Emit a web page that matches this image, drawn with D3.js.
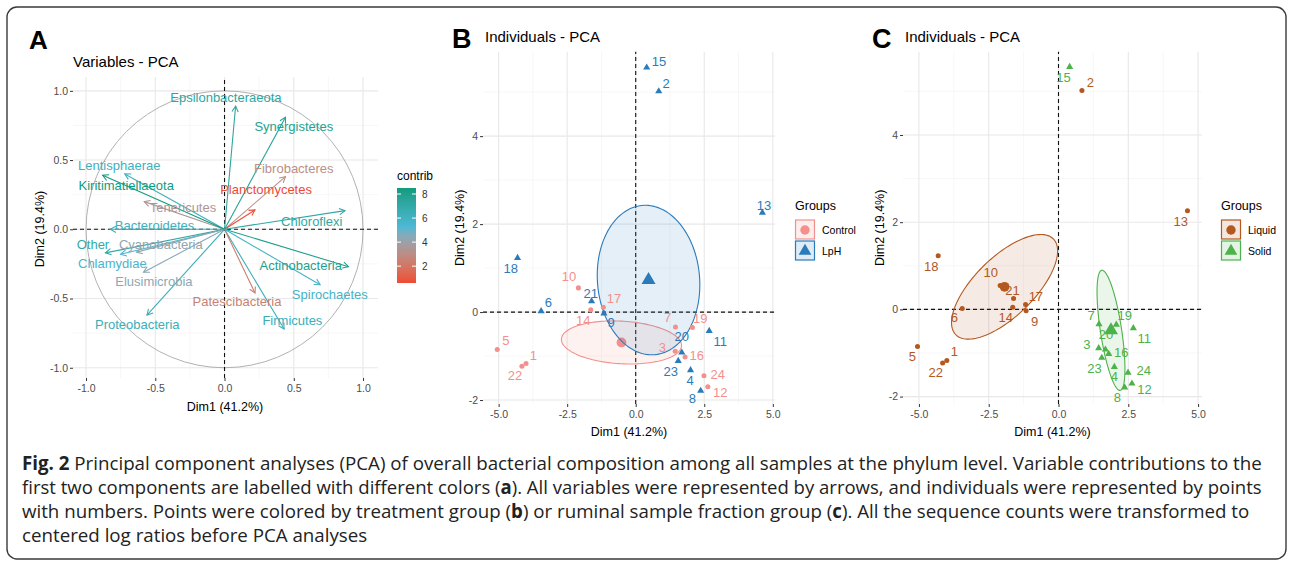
<!DOCTYPE html>
<html>
<head>
<meta charset="utf-8">
<script src="https://cdn.jsdelivr.net/npm/d3@7"></script>
<style>
body { margin: 0; background: #fff; }
text { font-family: "Liberation Sans", Arial, sans-serif; }
.caption { font-family: "Open Sans", "Noto Sans", sans-serif; }
</style>
</head>
<body>
<svg id="fig" width="1292" height="565"></svg>
<script>

// ---- Panel A: variable coordinates and contributions
var phyla = ["Epsilonbacteraeota", "Synergistetes", "Fibrobacteres", "Planctomycetes", "Chloroflexi",
    "Actinobacteria", "Spirochaetes", "Firmicutes", "Patescibacteria", "Proteobacteria", "Elusimicrobia",
    "Chlamydiae", "Other", "Cyanobacteria", "Bacteroidetes", "Tenericutes", "Lentisphaerae", "Kiritimatiellaeota"];
var varDim1 = [0.08, 0.44, 0.44, 0.22, 0.87, 0.895, 0.69, 0.43, 0.22, -0.56, -0.585, -0.75, -0.86, -0.635, -0.825, -0.58, -0.72, -0.88];
var varDim2 = [0.89, 0.81, 0.38, 0.14, 0.135, -0.27, -0.40, -0.72, -0.46, -0.62, -0.31, -0.18, -0.17, -0.165, 0.0, 0.20, 0.40, 0.39];
var varContrib = [7.3, 7.8, 3.1, 0.6, 7.1, 8.0, 5.8, 6.4, 2.4, 6.4, 4.4, 5.5, 7.0, 4.2, 6.2, 3.5, 6.2, 8.5];
// repelled label anchors (data units)
var varLabelDim1 = [0.01, 0.50, 0.50, 0.30, 0.63, 0.55, 0.76, 0.49, 0.09, -0.63, -0.51, -0.81, -0.95, -0.46, -0.505, -0.30, -0.76, -0.71];
var varLabelDim2 = [0.95, 0.74, 0.44, 0.29, 0.06, -0.26, -0.47, -0.66, -0.52, -0.69, -0.38, -0.25, -0.106, -0.11, 0.03, 0.16, 0.46, 0.32];
var contribTicks = [2, 4, 6, 8];

// ---- Panels B and C: individuals
var sampleIds = ["1", "2", "3", "4", "5", "6", "7", "8", "9", "10", "11", "12",
    "13", "14", "15", "16", "17", "18", "19", "20", "21", "22", "23", "24"];
var indDim1 = [-4.00, 0.84, 1.44, 2.00, -5.05, -3.45, 1.45, 2.37, -1.16, -2.09, 2.68, 2.63,
    4.62, -1.64, 0.40, 1.80, -1.18, -4.31, 2.07, 1.68, -1.61, -4.15, 1.55, 2.49];
var indDim2 = [-1.17, 5.02, -0.89, -1.32, -0.85, 0.02, -0.34, -1.79, -0.03, 0.55, -0.43, -1.70,
    2.26, 0.05, 5.56, -1.02, 0.11, 1.23, -0.35, -0.92, 0.25, -1.23, -1.11, -1.45];
var treatment = ["Control", "LpH", "Control", "LpH", "Control", "LpH", "Control", "LpH", "LpH", "Control", "LpH", "Control",
    "LpH", "Control", "LpH", "Control", "Control", "LpH", "Control", "LpH", "LpH", "Control", "LpH", "Control"];
var fraction = ["Liquid", "Liquid", "Solid", "Solid", "Liquid", "Liquid", "Solid", "Solid", "Liquid", "Liquid", "Solid", "Solid",
    "Liquid", "Liquid", "Solid", "Solid", "Liquid", "Liquid", "Solid", "Solid", "Liquid", "Liquid", "Solid", "Solid"];
var labelB1 = [-3.73, 1.11, 0.97, 1.98, -4.74, -3.19, 1.16, 2.07, -0.90, -2.43, 3.08, 3.08,
    4.68, -1.91, 0.85, 2.23, -0.79, -4.56, 2.35, 1.68, -1.64, -4.40, 1.28, 2.99];
var labelB2 = [-0.98, 5.20, -0.81, -1.55, -0.64, 0.22, -0.13, -1.96, -0.24, 0.82, -0.67, -1.83,
    2.43, -0.20, 5.69, -0.98, 0.31, 0.99, -0.14, -0.56, 0.42, -1.45, -1.36, -1.41];
var labelC1 = [-3.73, 1.14, 1.02, 2.00, -5.23, -3.73, 1.17, 2.11, -0.86, -2.43, 3.07, 3.08,
    4.38, -1.89, 0.18, 2.25, -0.81, -4.56, 2.37, 1.70, -1.65, -4.40, 1.29, 3.05];
var labelC2 = [-0.97, 5.20, -0.80, -1.53, -1.07, -0.19, -0.14, -2.03, -0.27, 0.84, -0.67, -1.83,
    2.01, -0.19, 5.32, -0.99, 0.29, 0.98, -0.14, -0.57, 0.43, -1.45, -1.36, -1.41];

// confidence ellipses: shape matrix [sxx, sxy, syy] in data units
var treatmentGroups = ["Control", "LpH"];
var treatmentEllipse = [[4.8, -0.15, 0.24], [3.5, -0.2, 2.89]];
var fractionGroups = ["Liquid", "Solid"];
var fractionEllipse = [[3.61, 1.56, 1.44], [0.25, -0.44, 1.90]];

// caption: [text, bold]
var captionLines = [
    [["Fig. 2", true], [" Principal component analyses (PCA) of overall bacterial composition among all samples at the phylum level. Variable contributions to the", false]],
    [["first two components are labelled with different colors (", false], ["a", true], ["). All variables were represented by arrows, and individuals were represented by points", false]],
    [["with numbers. Points were colored by treatment group (", false], ["b", true], [") or ruminal sample fraction group (", false], ["c", true], ["). All the sequence counts were transformed to", false]],
    [["centered log ratios before PCA analyses", false]]
];

var svg = d3.select("#fig");
var fmt1 = function(d) { return d.toFixed(1); };
var fmt0 = function(d) { return String(d); };

// outer frame
svg.append("rect").attr("x", 7).attr("y", 7).attr("width", 1279).attr("height", 552).attr("rx", 10)
    .attr("fill", "none").attr("stroke", "#3a3a3a").attr("stroke-width", 1.4);

function drawGrid(g, x, y, xMajor, xMinor, yMajor, yMinor) {
    var x0 = x.range()[0], x1 = x.range()[1], y0 = y.range()[0], y1 = y.range()[1];
    g.selectAll(null).data(xMinor).enter().append("line")
        .attr("x1", x).attr("x2", x).attr("y1", y0).attr("y2", y1).attr("stroke", "#f2f2f2").attr("stroke-width", 0.6);
    g.selectAll(null).data(yMinor).enter().append("line")
        .attr("y1", y).attr("y2", y).attr("x1", x0).attr("x2", x1).attr("stroke", "#f2f2f2").attr("stroke-width", 0.6);
    g.selectAll(null).data(xMajor).enter().append("line")
        .attr("x1", x).attr("x2", x).attr("y1", y0).attr("y2", y1).attr("stroke", "#e8e8e8").attr("stroke-width", 1.1);
    g.selectAll(null).data(yMajor).enter().append("line")
        .attr("y1", y).attr("y2", y).attr("x1", x0).attr("x2", x1).attr("stroke", "#e8e8e8").attr("stroke-width", 1.1);
}

function drawAxes(g, x, y, xTicks, yTicks, xf, yf) {
    var ax = g.append("g").attr("transform", "translate(0," + y.range()[0] + ")")
        .call(d3.axisBottom(x).tickValues(xTicks).tickFormat(xf).tickSize(3).tickPadding(4));
    var ay = g.append("g").attr("transform", "translate(" + x.range()[0] + ",0)")
        .call(d3.axisLeft(y).tickValues(yTicks).tickFormat(yf).tickSize(3).tickPadding(2));
    [ax, ay].forEach(function(a) {
        a.select(".domain").remove();
        a.selectAll(".tick line").attr("stroke", "#333");
        a.selectAll(".tick text").attr("fill", "#4d4d4d").style("font-size", "10.5px")
            .style("font-family", "'Liberation Sans', Arial, sans-serif");
    });
}

function axisTitles(g, cx, cy, xt, yx, yy, yt) {
    g.append("text").attr("x", cx).attr("y", cy).attr("text-anchor", "middle").attr("dy", "0.35em")
        .style("font-size", "12.5px").text(xt);
    g.append("text").attr("transform", "translate(" + yx + "," + yy + ") rotate(-90)")
        .attr("text-anchor", "middle").attr("dy", "0.35em").style("font-size", "12.5px").text(yt);
}

function dashedZero(g, x, y) {
    g.append("line").attr("x1", x.range()[0]).attr("x2", x.range()[1]).attr("y1", y(0)).attr("y2", y(0))
        .attr("stroke", "#111").attr("stroke-width", 1.1).attr("stroke-dasharray", "4,3");
    g.append("line").attr("x1", x(0)).attr("x2", x(0)).attr("y1", y.range()[0]).attr("y2", y.range()[1])
        .attr("stroke", "#111").attr("stroke-width", 1.1).attr("stroke-dasharray", "4,3");
}

// ================= Panel A =================
var xA = d3.scaleLinear().domain([-1.094, 1.108]).range([73, 378]);
var yA = d3.scaleLinear().domain([-1.074, 1.10]).range([378, 77]);
var contribColor = d3.scaleLinear().domain([0.6, 5.3, 8.5])
    .range(["#ee4a34", "#4bb8d6", "#0f9c7f"]).interpolate(d3.interpolateLab);

var gA = svg.append("g");
drawGrid(gA, xA, yA, [-1, -0.5, 0, 0.5, 1], [-0.75, -0.25, 0.25, 0.75], [-1, -0.5, 0, 0.5, 1], [-0.75, -0.25, 0.25, 0.75]);
drawAxes(gA, xA, yA, [-1, -0.5, 0, 0.5, 1], [-1, -0.5, 0, 0.5, 1], fmt1, fmt1);

// correlation circle
gA.append("ellipse").attr("cx", xA(0)).attr("cy", yA(0))
    .attr("rx", xA(1) - xA(0)).attr("ry", yA(0) - yA(1))
    .attr("fill", "none").attr("stroke", "#a8a8a8").attr("stroke-width", 0.9);
dashedZero(gA, xA, yA);

phyla.forEach(function(p, i) {
    var col = contribColor(varContrib[i]);
    var x0 = xA(0), y0 = yA(0), x1 = xA(varDim1[i]), y1 = yA(varDim2[i]);
    var a = Math.atan2(y1 - y0, x1 - x0), len = 6.5;
    gA.append("line").attr("x1", x0).attr("y1", y0).attr("x2", x1).attr("y2", y1)
        .attr("stroke", col).attr("stroke-width", 1.1);
    gA.append("path")
        .attr("d", "M" + (x1 - len * Math.cos(a - 0.5)) + "," + (y1 - len * Math.sin(a - 0.5)) +
            "L" + x1 + "," + y1 + "L" + (x1 - len * Math.cos(a + 0.5)) + "," + (y1 - len * Math.sin(a + 0.5)))
        .attr("fill", "none").attr("stroke", col).attr("stroke-width", 1.1);
});
phyla.forEach(function(p, i) {
    gA.append("text").attr("x", xA(varLabelDim1[i])).attr("y", yA(varLabelDim2[i]))
        .attr("text-anchor", "middle").attr("dy", "0.35em").style("font-size", "13px")
        .attr("fill", contribColor(varContrib[i])).text(p);
});

axisTitles(gA, 225, 407, "Dim1 (41.2%)", 40, 229, "Dim2 (19.4%)");
gA.append("text").attr("x", 73).attr("y", 67).style("font-size", "15px").text("Variables - PCA");
gA.append("text").attr("x", 29).attr("y", 49).style("font-size", "26px").style("font-weight", "bold").text("A");

// contrib colour bar
var barY = d3.scaleLinear().domain([0.6, 8.5]).range([283, 188]);
var defs = svg.append("defs");
var grad = defs.append("linearGradient").attr("id", "contribGrad").attr("x1", 0).attr("y1", 1).attr("x2", 0).attr("y2", 0);
d3.range(0, 1.0001, 0.05).forEach(function(t) {
    grad.append("stop").attr("offset", t).attr("stop-color", contribColor(0.6 + t * (8.5 - 0.6)));
});
gA.append("text").attr("x", 397).attr("y", 180).style("font-size", "12px").text("contrib");
gA.append("rect").attr("x", 397).attr("y", 188).attr("width", 19).attr("height", 95).attr("fill", "url(#contribGrad)");
contribTicks.forEach(function(t) {
    gA.append("line").attr("x1", 397).attr("x2", 401).attr("y1", barY(t)).attr("y2", barY(t)).attr("stroke", "#fff");
    gA.append("line").attr("x1", 412).attr("x2", 416).attr("y1", barY(t)).attr("y2", barY(t)).attr("stroke", "#fff");
    gA.append("text").attr("x", 422).attr("y", barY(t)).attr("dy", "0.35em").style("font-size", "10px")
        .attr("fill", "#333").text(t);
});

// ================= Panels B and C =================
function ellipsePath(x, y, cx, cy, s) {
    var l11 = Math.sqrt(s[0]), l21 = s[1] / l11, l22 = Math.sqrt(s[2] - l21 * l21);
    var pts = d3.range(0, 2 * Math.PI, Math.PI / 72).map(function(t) {
        return [x(cx + l11 * Math.cos(t)), y(cy + l21 * Math.cos(t) + l22 * Math.sin(t))];
    });
    return d3.line().curve(d3.curveLinearClosed)(pts);
}

function drawIndividuals(o) {
    var g = svg.append("g");
    var x = o.x, y = o.y;
    drawGrid(g, x, y, [-5, -2.5, 0, 2.5, 5], [-3.75, -1.25, 1.25, 3.75], [-2, 0, 2, 4], [-1, 1, 3, 5]);
    drawAxes(g, x, y, [-5, -2.5, 0, 2.5, 5], [-2, 0, 2, 4], fmt1, fmt0);
    dashedZero(g, x, y);

    var groupOf = o.groupBy;
    // ellipses around group means
    o.groups.forEach(function(gr, k) {
        var idx = sampleIds.map(function(d, i) { return i; }).filter(function(i) { return groupOf[i] === gr; });
        var cx = d3.mean(idx, function(i) { return indDim1[i]; });
        var cy = d3.mean(idx, function(i) { return indDim2[i]; });
        g.append("path").attr("d", ellipsePath(x, y, cx, cy, o.ellipse[k]))
            .attr("fill", o.colors[k]).attr("fill-opacity", 0.12)
            .attr("stroke", o.colors[k]).attr("stroke-width", 1.1);
        var sym = d3.symbol().type(k === 0 ? d3.symbolCircle : d3.symbolTriangle).size(k === 0 ? 75 : 85);
        g.append("path").attr("d", sym()).attr("transform", "translate(" + x(cx) + "," + y(cy) + ")")
            .attr("fill", o.colors[k]);
    });

    // points
    sampleIds.forEach(function(id, i) {
        var k = o.groups.indexOf(groupOf[i]);
        var sym = d3.symbol().type(k === 0 ? d3.symbolCircle : d3.symbolTriangle).size(k === 0 ? 20 : 22);
        g.append("path").attr("d", sym()).attr("transform", "translate(" + x(indDim1[i]) + "," + y(indDim2[i]) + ")")
            .attr("fill", o.colors[k]);
    });
    sampleIds.forEach(function(id, i) {
        var k = o.groups.indexOf(groupOf[i]);
        g.append("text").attr("x", x(o.lab1[i])).attr("y", y(o.lab2[i]))
            .attr("text-anchor", "middle").attr("dy", "0.35em").style("font-size", "13px")
            .attr("fill", o.colors[k]).text(id);
    });

    var xr = x.range(), yr = y.range();
    axisTitles(g, (xr[0] + xr[1]) / 2, 432, "Dim1 (41.2%)", xr[0] - 23, (yr[0] + yr[1]) / 2, "Dim2 (19.4%)");
    g.append("text").attr("x", xr[0] + 2).attr("y", 42).style("font-size", "15px").text("Individuals - PCA");
    g.append("text").attr("x", xr[0] - 31).attr("y", 48).style("font-size", "27px").style("font-weight", "bold").text(o.letter);

    // legend
    var lx = o.legendX;
    g.append("text").attr("x", lx).attr("y", 206).attr("dy", "0.35em").style("font-size", "12.5px").text("Groups");
    o.groups.forEach(function(gr, k) {
        var ky = 220 + k * 21;
        g.append("rect").attr("x", lx + 0.5).attr("y", ky).attr("width", 19).attr("height", 19)
            .attr("fill", o.colors[k]).attr("fill-opacity", 0.15).attr("stroke", o.colors[k]).attr("stroke-width", 1.2);
        var sym = d3.symbol().type(k === 0 ? d3.symbolCircle : d3.symbolTriangle).size(70);
        g.append("path").attr("d", sym()).attr("transform", "translate(" + (lx + 10) + "," + (ky + 10) + ")")
            .attr("fill", o.colors[k]);
        g.append("text").attr("x", lx + 27).attr("y", ky + 10).attr("dy", "0.35em").style("font-size", "10.5px").text(gr);
    });
}

drawIndividuals({
    x: d3.scaleLinear().domain([-5.57, 5.08]).range([483, 775]),
    y: d3.scaleLinear().domain([-2.09, 5.92]).range([404, 51.7]),
    groupBy: treatment, groups: treatmentGroups, ellipse: treatmentEllipse,
    colors: ["#f3908d", "#2b7bba"], lab1: labelB1, lab2: labelB2, letter: "B", legendX: 795
});
drawIndividuals({
    x: d3.scaleLinear().domain([-5.57, 5.14]).range([903, 1202]),
    y: d3.scaleLinear().domain([-2.17, 5.91]).range([404, 51.7]),
    groupBy: fraction, groups: fractionGroups, ellipse: fractionEllipse,
    colors: ["#b3581f", "#4db24a"], lab1: labelC1, lab2: labelC2, letter: "C", legendX: 1221
});

// ================= Caption =================
// each line is squeezed horizontally as a whole so the tspans keep their own widths
var capTexts = captionLines.map(function(parts, li) {
    var lg = svg.append("g").attr("transform", "translate(22," + (470 + li * 24) + ")");
    var t = lg.append("text").attr("class", "caption").attr("x", 0).attr("y", 0)
        .style("font-size", "19px").attr("fill", "#222");
    parts.forEach(function(p) {
        t.append("tspan").style("font-weight", p[1] ? "bold" : "normal").text(p[0]);
    });
    return lg;
});
var natural = capTexts.map(function(lg) { return lg.select("text").node().getComputedTextLength(); });
var squeeze = 1240 / natural[0];
var widths = [1240, 1240, 1228, natural[3] * squeeze];
capTexts.forEach(function(lg, i) {
    lg.attr("transform", "translate(22," + (470 + i * 24) + ") scale(" + (widths[i] / natural[i]) + ",1)");
});
</script>
</body>
</html>
